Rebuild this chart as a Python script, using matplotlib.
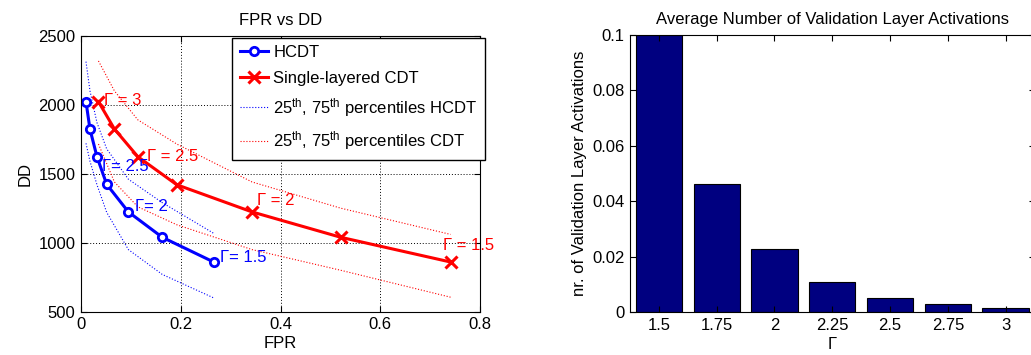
import matplotlib
matplotlib.use("Agg")
import matplotlib.pyplot as plt
import numpy as np

plt.rcParams['font.family'] = ['Liberation Sans', 'DejaVu Sans']
plt.rcParams['mathtext.fontset'] = 'custom'
plt.rcParams['mathtext.rm'] = 'Liberation Sans'
plt.rcParams['mathtext.it'] = 'Liberation Sans'

# ---- Left chart data: FPR vs DD ----
hcdt_fpr = [0.010, 0.018, 0.032, 0.0515, 0.095, 0.163, 0.266]
hcdt_dd = [2022, 1822, 1623, 1423, 1223, 1039, 860]
hcdt_dd_p75 = [2312, 2100, 1870, 1680, 1460, 1290, 1068]
hcdt_dd_p25 = [1720, 1590, 1420, 1220, 950, 770, 600]

cdt_fpr = [0.035, 0.067, 0.114, 0.192, 0.343, 0.521, 0.741]
cdt_dd = [2022, 1824, 1623, 1420, 1223, 1039, 860]
cdt_dd_p75 = [2317, 2100, 1890, 1715, 1440, 1250, 1060]
cdt_dd_p25 = [1715, 1440, 1260, 1130, 950, 800, 605]

hcdt_labels = ["Γ= 2.5", "Γ= 2", "Γ= 1.5"]
hcdt_label_pos = [(0.0415, 1551), (0.108, 1259), (0.279, 891)]
cdt_labels = ["Γ = 3", "Γ = 2.5", "Γ = 2", "Γ = 1.5"]
cdt_label_pos = [(0.046, 2029), (0.132, 1628), (0.352, 1304), (0.726, 978)]

# ---- Right chart data: validation layer activations ----
gamma = [1.5, 1.75, 2, 2.25, 2.5, 2.75, 3]
gamma_labels = ["1.5", "1.75", "2", "2.25", "2.5", "2.75", "3"]
activations = [0.1, 0.0461, 0.0226, 0.0107, 0.0051, 0.0028, 0.0014]

W, H = 1031, 355
fig = plt.figure(figsize=(W / 100, H / 100), dpi=100)
FS = 12

# Left axes
ax1 = fig.add_axes([81 / W, 1 - 311.7 / H, 399 / W, 276 / H])
ax1.plot(hcdt_fpr, hcdt_dd_p75, ':', color='blue', lw=0.8)
ax1.plot(hcdt_fpr, hcdt_dd_p25, ':', color='blue', lw=0.8)
ax1.plot(cdt_fpr, cdt_dd_p75, ':', color='red', lw=0.8)
ax1.plot(cdt_fpr, cdt_dd_p25, ':', color='red', lw=0.8)
l1, = ax1.plot(hcdt_fpr, hcdt_dd, '-o', color='blue', lw=2.2, ms=6,
               mfc='white', mew=2)
l2, = ax1.plot(cdt_fpr, cdt_dd, '-x', color='red', lw=2.2, ms=9, mew=2.2)
l3, = ax1.plot([], [], ':', color='blue', lw=0.8)
l4, = ax1.plot([], [], ':', color='red', lw=0.8)

for t, (x, y) in zip(hcdt_labels, hcdt_label_pos):
    ax1.text(x, y, t, color='blue', fontsize=FS, ha='left', va='center')
for t, (x, y) in zip(cdt_labels, cdt_label_pos):
    ax1.text(x, y, t, color='red', fontsize=FS, ha='left', va='center')

ax1.set_xlim(0, 0.8)
ax1.set_ylim(500, 2500)
ax1.set_xticks([0, 0.2, 0.4, 0.6, 0.8])
ax1.set_xticklabels(["0", "0.2", "0.4", "0.6", "0.8"])
ax1.set_yticks([500, 1000, 1500, 2000, 2500])
ax1.grid(True, color='black', linestyle=(0, (1, 2)), linewidth=0.7)
ax1.tick_params(direction='in', top=True, right=True, labelsize=FS, length=4, pad=4)
ax1.set_title("FPR vs DD", fontsize=FS, pad=8)
ax1.set_xlabel("FPR", fontsize=FS, labelpad=3)
ax1.set_ylabel("DD", fontsize=FS, labelpad=4)

leg = ax1.legend([l1, l2, l3, l4],
                 ["HCDT", "Single-layered CDT",
                  r"25$^{\rm th}$, 75$^{\rm th}$ percentiles HCDT",
                  r"25$^{\rm th}$, 75$^{\rm th}$ percentiles CDT"],
                 loc='upper right', bbox_to_anchor=(485 / W, 1 - 37.7 / H),
                 bbox_transform=fig.transFigure, fontsize=FS,
                 fancybox=False, edgecolor='black', framealpha=1,
                 handlelength=1.7, handletextpad=0.3, labelspacing=0.62,
                 borderpad=0.45, borderaxespad=0)
leg.get_frame().set_linewidth(1.0)

# Right axes
ax2 = fig.add_axes([630 / W, 1 - 312 / H, 404.5 / W, 277 / H])
ax2.bar(gamma, activations, width=0.2, color='#000080', edgecolor='black', linewidth=0.8)
ax2.set_xlim(1.375, 3.125)
ax2.set_ylim(0, 0.1)
ax2.set_xticks(gamma)
ax2.set_xticklabels(gamma_labels)
ax2.set_yticks([0, 0.02, 0.04, 0.06, 0.08, 0.1])
ax2.set_yticklabels(["0", "0.02", "0.04", "0.06", "0.08", "0.1"])
ax2.tick_params(direction='in', top=True, right=True, labelsize=FS, length=4, pad=4)
ax2.set_title("Average Number of Validation Layer Activations", fontsize=FS, pad=8)
ax2.set_xlabel("Γ", fontsize=FS, labelpad=3)
ax2.set_ylabel("nr. of Validation Layer Activations", fontsize=FS, labelpad=4)

fig.savefig("out.png", dpi=100)
